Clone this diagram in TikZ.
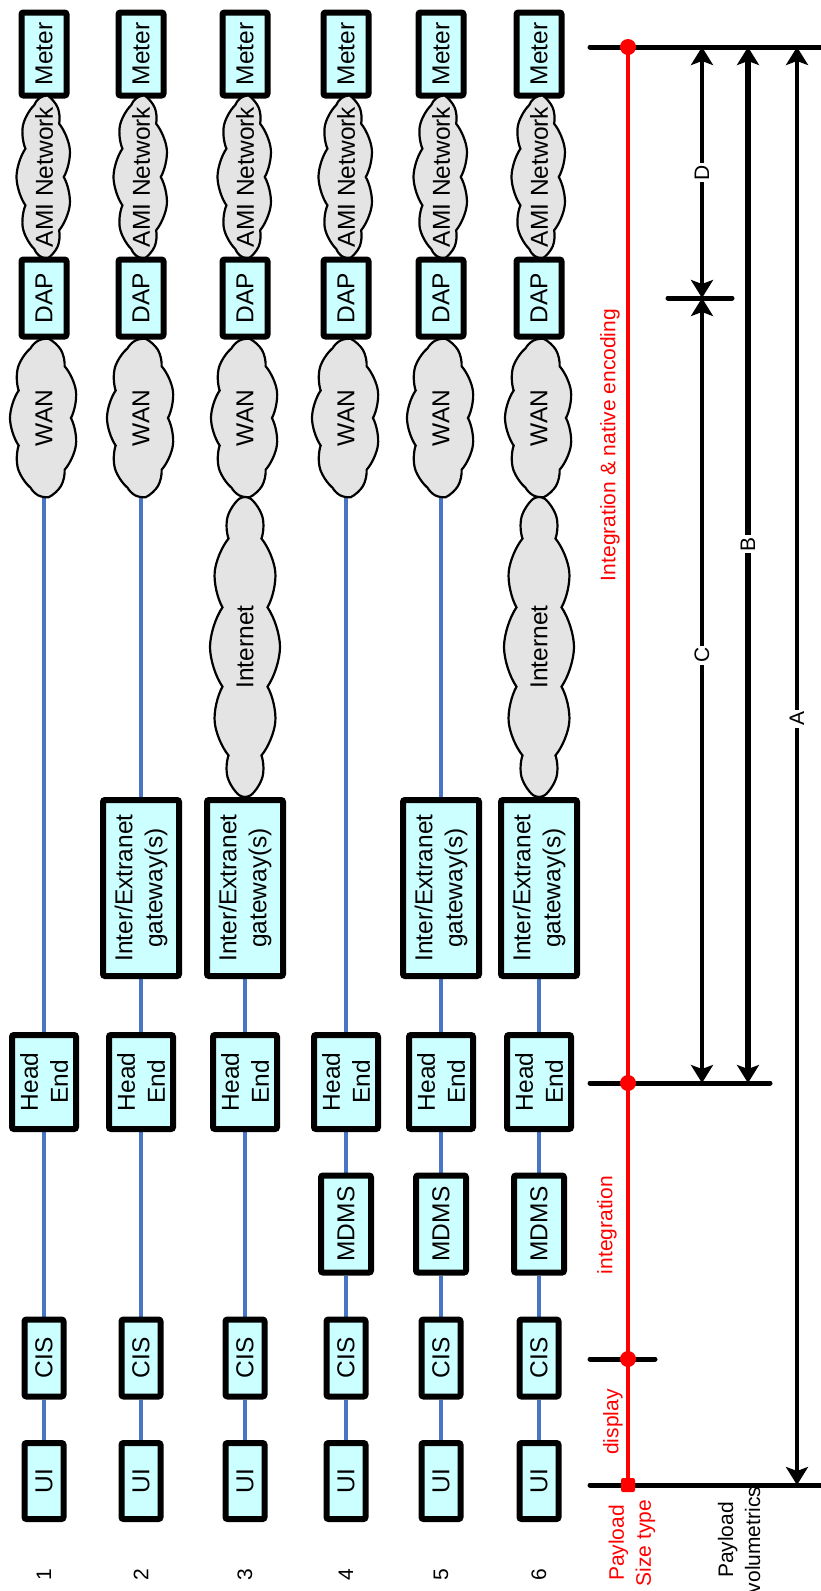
\documentclass[tikz,border=0pt]{standalone}
\usepackage{fontspec}
\setmainfont{Liberation Sans}
\usetikzlibrary{arrows.meta,shapes.symbols,backgrounds}
\definecolor{boxfill}{RGB}{204,255,255}
\definecolor{cloudfill}{RGB}{228,228,228}
\definecolor{linkblue}{RGB}{72,118,196}
\begin{document}
\begin{tikzpicture}[x=1pt,y=-1pt,>={Stealth[length=18pt,width=22pt,inset=4pt]},
  box/.style={draw,line width=6pt,fill=boxfill,rounded corners=2pt,rotate=90,inner sep=0pt,align=center,font=\fontsize{24.5}{30}\selectfont},
  net/.style={cloud,cloud puffs=9,cloud puff arc=70,cloud ignores aspect,draw,line width=2.2pt,fill=cloudfill,rotate=90,inner sep=0pt,font=\fontsize{24.5}{30}\selectfont},
  link/.style={draw=linkblue,line width=3.5pt},
  lbl/.style={rotate=90,font=\fontsize{21}{27}\selectfont,align=center},
  dimlbl/.style={lbl,fill=white,inner sep=2pt},
  dim/.style={line width=4.5pt,<->},
  bar/.style={line width=5pt,line cap=round}]
\useasboundingbox (0,0) rectangle (820,1591);
% the six chains, meter on top, UI at the bottom
\foreach \i/\x in {1/44,2/141,3/245,4/346,5/441,6/539}{
  \node[box,minimum width=83pt,minimum height=45pt] (meter\i) at (\x,54) {Meter};
  \node[net,minimum width=160pt,minimum height=55pt] (ami\i) at (\x,177) {\makebox[0pt]{AMI Network}};
  \node[box,minimum width=77pt,minimum height=45pt] (dap\i) at (\x,298) {DAP};
  \node[net,minimum width=157pt,minimum height=68pt] (wan\i) at (\x,418) {\makebox[0pt]{WAN}};
  \node[box,minimum width=94pt,minimum height=64pt] (he\i) at (\x,1082) {Head\\End};
  \node[box,minimum width=77pt,minimum height=39pt] (cis\i) at (\x,1358) {CIS};
  \node[box,minimum width=76pt,minimum height=39pt] (ui\i) at (\x,1481) {UI};
  \node[lbl] (num\i) at (\x,1575) {\i};
}
\foreach \i/\x in {2/141,3/245,5/441,6/539}
  \node[box,minimum width=176pt,minimum height=76pt] (gw\i) at (\x,888) {Inter/Extranet\\gateway(s)};
\foreach \i/\x in {3/245,6/539}
  \node[net,cloud puffs=12,minimum width=300pt,minimum height=70pt] (inet\i) at (\x,647) {\makebox[0pt]{Internet}};
\foreach \i/\x in {4/346,5/441,6/539}
  \node[box,minimum width=97pt,minimum height=50pt] (mdms\i) at (\x,1224) {MDMS};
\begin{scope}[on background layer]
\foreach \a/\b in {wan1/he1,he1/cis1,wan2/gw2,gw2/he2,he2/cis2,gw3/he3,he3/cis3,
  wan4/he4,he4/mdms4,mdms4/cis4,wan5/gw5,gw5/he5,he5/mdms5,mdms5/cis5,
  gw6/he6,he6/mdms6,mdms6/cis6}
  \draw[link] (\a) -- (\b);
\foreach \i in {1,...,6}
  \draw[link] (cis\i) -- (ui\i);
\end{scope}
% scale on the right
\coordinate (rT) at (628,47);
\coordinate (rD) at (628,1083);
\coordinate (rI) at (628,1359);
\coordinate (rB) at (628,1485);
\draw[bar] (590,47) -- (830,47);
\draw[bar] (668,298) -- (732,298);
\draw[bar] (590,1083) -- (770,1083);
\draw[bar] (590,1359) -- (655,1359);
\draw[bar] (590,1485) -- (830,1485);
\draw[red,line width=4pt] (rT) -- (rB);
\fill[red] (rT) circle (8pt) (rD) circle (8pt) (rI) circle (8pt);
\fill[red,rounded corners=2pt] (621,1478) rectangle (635,1492);
\draw[dim] (702,47) -- node[dimlbl]{D} (702,298);
\draw[dim] (702,298) -- node[dimlbl,pos=.455]{C} (702,1083);
\draw[dim,line width=6pt] (748,47) -- node[dimlbl,pos=.48]{B} (748,1083);
\draw[dim] (797,47) -- node[dimlbl,pos=.467]{A} (797,1485);
\node[lbl,red] (native) at (610,445) {Integration \& native encoding};
\node[lbl,red] (integ) at (607,1225) {integration};
\node[lbl,red] (disp) at (613,1422) {display};
\node[lbl,red] (size) at (632,1543) {Payload\\Size type};
\node[lbl] (volu) at (739,1540) {Payload\\volumetrics};
\end{tikzpicture}
\end{document}
